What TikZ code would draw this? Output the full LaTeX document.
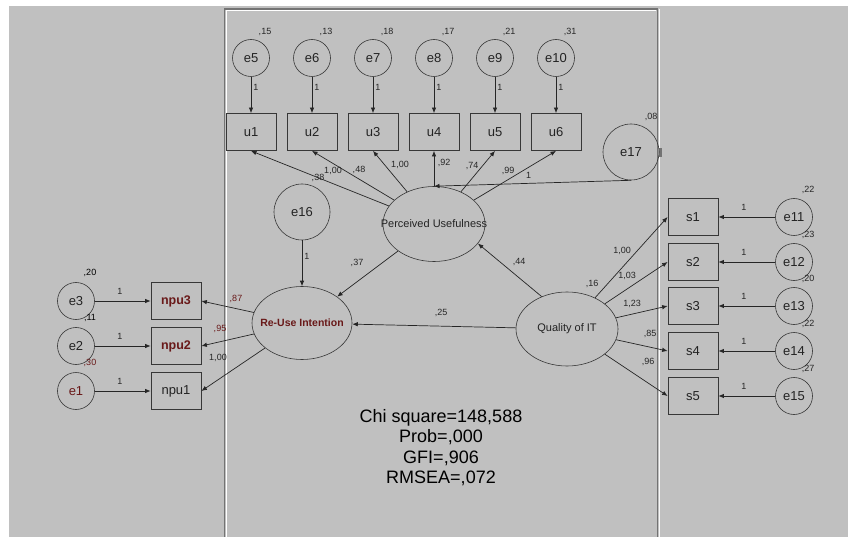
\documentclass[tikz,border=0pt]{standalone}
\usepackage{fontspec}
\setmainfont{Liberation Sans}
\usetikzlibrary{arrows.meta,shapes.geometric}
\definecolor{amosgray}{RGB}{192,192,192}
\definecolor{hilite}{RGB}{105,25,25}
\definecolor{edgegray}{RGB}{55,55,55}
\definecolor{inktext}{RGB}{35,35,35}

\begin{document}
\begin{tikzpicture}[x=1pt,y=-1pt,
		err/.style={circle,draw=edgegray,line width=0.6pt,minimum size=37pt,inner sep=0pt,text=inktext,font=\fontsize{13}{15}\selectfont},
		errhl/.style={err,text=hilite},
		bigerr/.style={err,minimum size=56pt},
		obs/.style={rectangle,draw=edgegray,line width=0.8pt,minimum width=50pt,minimum height=37pt,inner sep=0pt,text=inktext,font=\fontsize{13}{15}\selectfont},
		obshl/.style={obs,text=hilite,font=\fontsize{12.5}{15}\selectfont\bfseries},
		lat/.style={ellipse,draw=edgegray,line width=0.6pt,minimum width=102pt,minimum height=74pt,inner sep=0pt},
		latxt/.style={inner sep=0pt,text=inktext,font=\fontsize{11}{13}\selectfont},
		link/.style={-{Latex[length=5.5pt,width=4.5pt]},line width=0.7pt,draw=black!85},
		lbl/.style={font=\fontsize{9}{10}\selectfont,inner sep=0pt,text=black!85}]
		\useasboundingbox (0,0) rectangle (848,537);
		\fill[white] (0,0) rectangle (848,537);
		\fill[amosgray] (9,6) rectangle (848,537);
		% panel
		\draw[white,line width=1pt] (226.5,537) -- (226.5,11) -- (655.5,11);
		\draw[black!55,line width=1.2pt] (224.5,537) -- (224.5,9) -- (657.5,9) -- (657.5,537);
		\draw[white!90!amosgray,line width=0.8pt] (659.5,9) -- (659.5,537);
		\fill[black!55] (658.5,148) rectangle (661.5,157);
		% indicators of perceived usefulness
		\foreach \i/\x/\v in {1/251/15,2/312/13,3/373/18,4/434/17,5/495/21,6/556/31}{
			\pgfmathtruncatemacro\e{\i+4}
			\node[err] (e\e) at (\x,58) {e\e};
			\node[lbl] (v\e) at (\x+14,32) {,\v};
			\node[obs] (u\i) at (\x,132) {u\i};
			\draw[link] (e\e) -- node[lbl,right=2pt,pos=0.3] (w\e) {1} (u\i);
		}
		% indicators of quality of IT
		\foreach \i/\y/\v in {1/217/22,2/262/23,3/306/20,4/351/22,5/396/27}{
			\pgfmathtruncatemacro\e{\i+10}
			\node[obs] (s\i) at (693,\y) {s\i};
			\node[err] (e\e) at (794,\y) {e\e};
			\node[lbl] (v\e) at (808,\y-27) {,\v};
			\draw[link] (e\e) -- node[lbl,above=6pt,pos=0.55] (w\e) {1} (s\i);
		}
		% indicators of re-use intention
		\foreach \i/\y/\v/\bs/\es/\vc in {3/301/20/obshl/err/black,2/346/11/obshl/err/black,1/391/30/obs/errhl/hilite}{
			\node[\es] (e\i) at (76,\y) {e\i};
			\node[\bs] (npu\i) at (176,\y) {npu\i};
			\node[lbl,text=\vc] (v\i) at (90,\y-28) {,\v};
			\draw[link] (e\i) -- node[lbl,above=6pt,pos=0.45] (w\i) {1} (npu\i);
		}
		% latent variables
		\node[lat,minimum height=75pt,label={[latxt,name=PUt]center:Perceived Usefulness}] (PU) at (434,224) {};
		\node[lat,minimum width=100pt,minimum height=73pt,label={[latxt,name=RUIt,text=hilite,font=\fontsize{10.5}{12}\selectfont\bfseries]center:Re-Use Intention}] (RUI) at (302,323) {};
		\node[lat,label={[latxt,name=QITt]center:Quality of IT}] (QIT) at (567,329) {};
		\node[bigerr] (e16) at (302,212) {e16};
		\node[bigerr] (e17) at (631,152) {e17};
		\node[lbl] (v17) at (651,117) {,08};
		\node[lbl] (v16) at (592,284) {,16};
		% paths
		\foreach \i in {1,...,6}
			\draw[link] (PU) -- (u\i.south);
		\foreach \i in {1,...,5}
			\draw[link] (QIT) -- (s\i.west);
		\foreach \i in {1,2,3}
			\draw[link] (RUI) -- (npu\i.east);
		\draw[link] (e17.south) -- node[lbl,above=5pt,pos=0.52] (w17) {1} (PU.north);
		\draw[link] (e16) -- node[lbl,right=2pt,pos=0.35] (w16) {1} (RUI);
		\draw[link] (PU) -- (RUI);
		\draw[link] (QIT.128) -- (PU.-24);
		\draw[link] (QIT) -- (RUI);
		% estimates
		\node[lbl] (l1) at (318,178) {,38};
		\node[lbl] (l2) at (333,171) {1,00};
		\node[lbl] (l3) at (359,170) {,48};
		\node[lbl] (l4) at (400,165) {1,00};
		\node[lbl] (l5) at (444,163) {,92};
		\node[lbl] (l6) at (472,166) {,74};
		\node[lbl] (l7) at (508,171) {,99};
		\node[lbl] (l8) at (357,263) {,37};
		\node[lbl] (l9) at (519,262) {,44};
		\node[lbl] (l10) at (441,313) {,25};
		\node[lbl] (l11) at (622,251) {1,00};
		\node[lbl] (l12) at (627,276) {1,03};
		\node[lbl] (l13) at (632,304) {1,23};
		\node[lbl] (l14) at (650,334) {,85};
		\node[lbl] (l15) at (648,362) {,96};
		\node[lbl,text=hilite] (l16) at (236,299) {,87};
		\node[lbl,text=hilite] (l17) at (220,329) {,95};
		\node[lbl] (l18) at (218,358) {1,00};
		% fit
		\node[font=\fontsize{18}{20.5}\selectfont,align=center,inner sep=0pt] (fit) at (441,447.5) {Chi square=148,588\\Prob=,000\\GFI=,906\\RMSEA=,072};
	\end{tikzpicture}
\end{document}
